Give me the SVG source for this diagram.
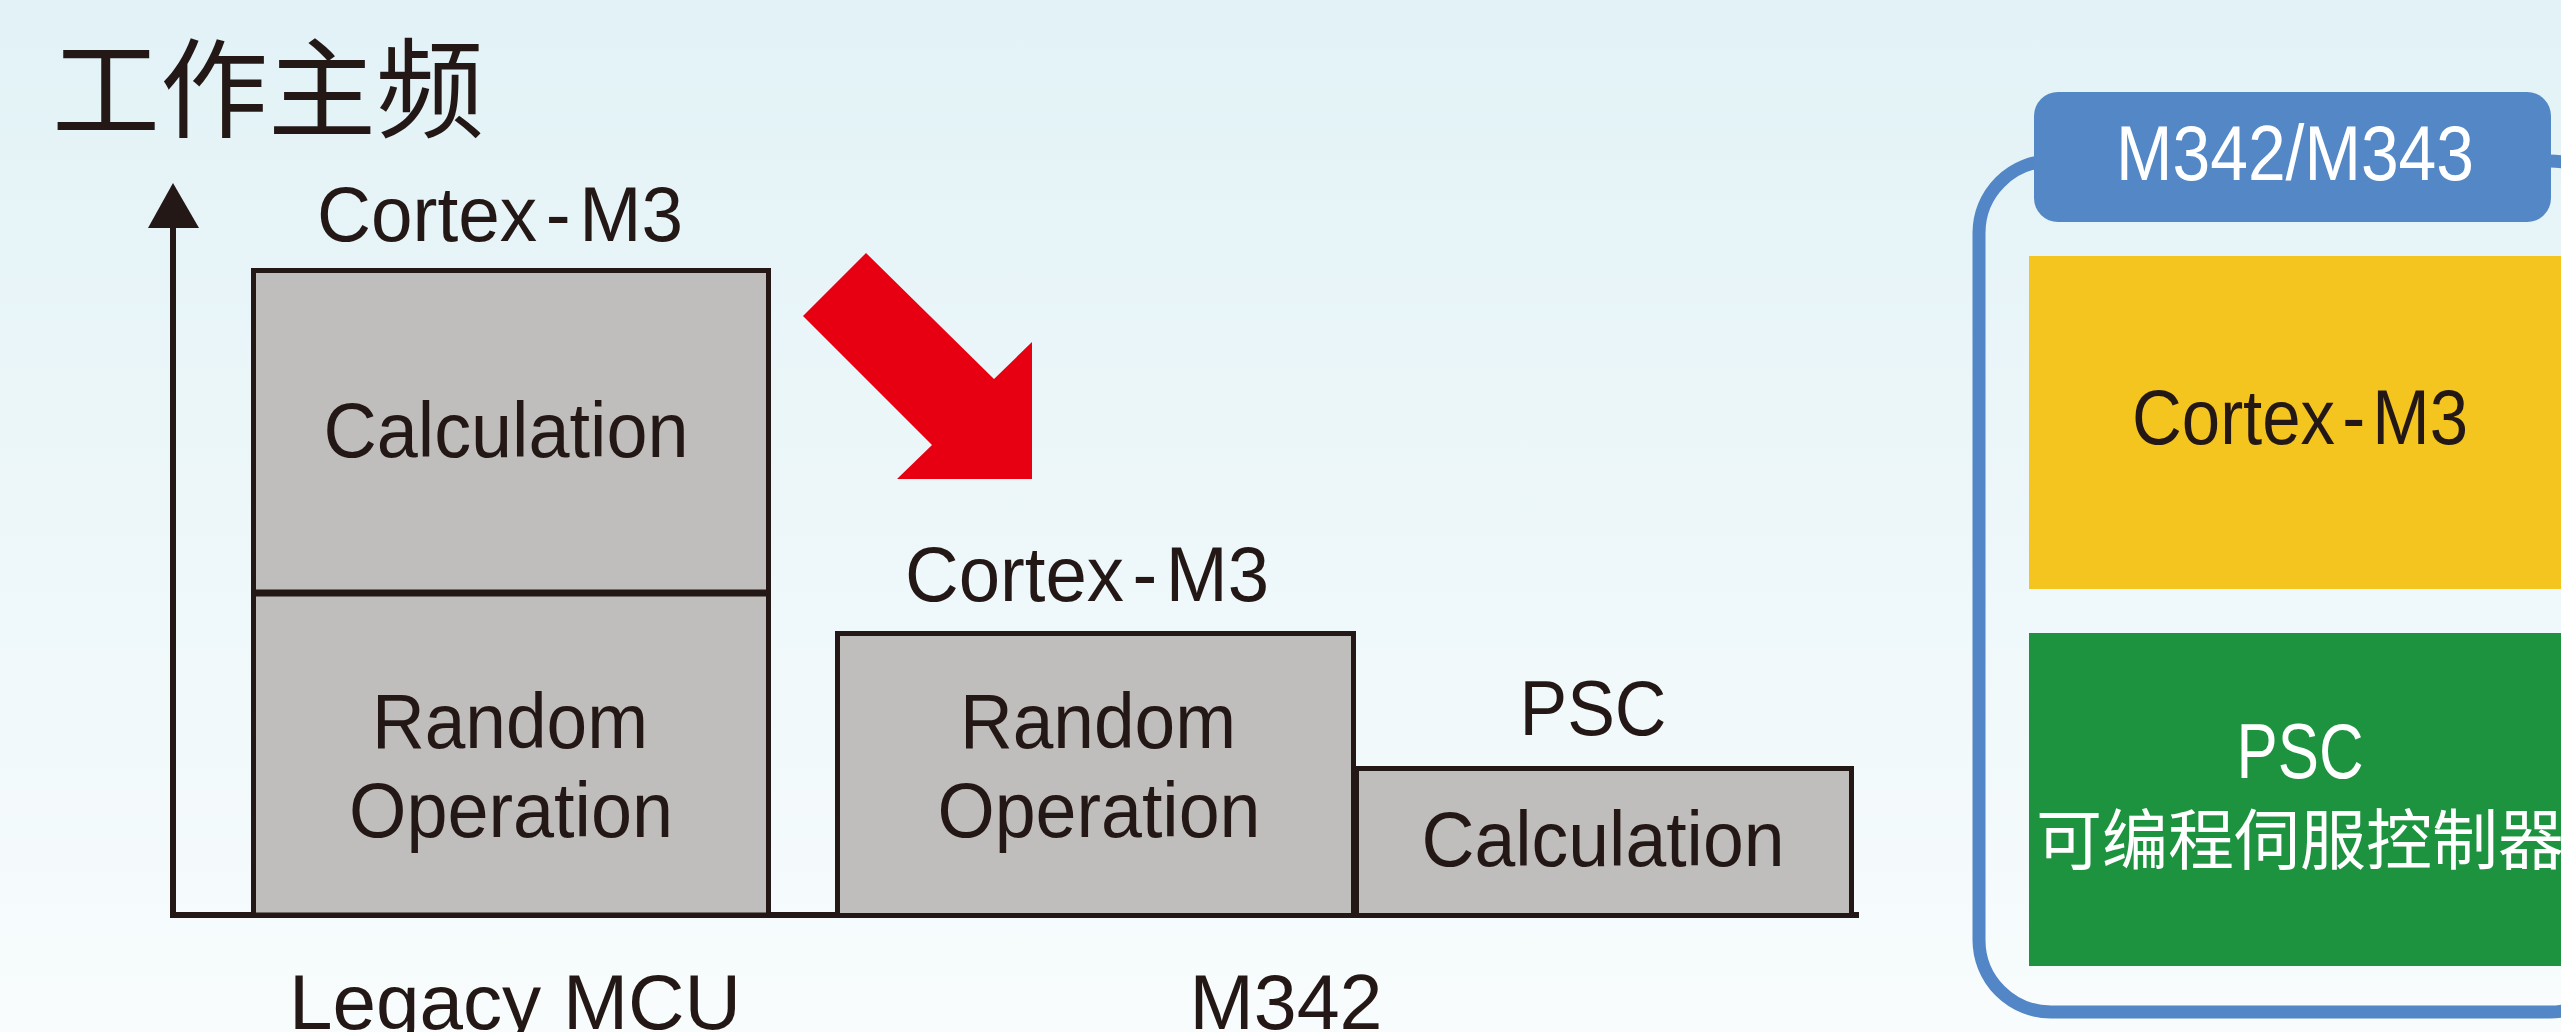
<svg xmlns="http://www.w3.org/2000/svg" width="2561" height="1032" viewBox="0 0 2561 1032">
<defs>
<linearGradient id="bg" x1="0" y1="0" x2="0" y2="1">
<stop offset="0" stop-color="#e2f2f6"/>
<stop offset="1" stop-color="#f8fcfd"/>
</linearGradient>
<style>
.t{font-family:"Liberation Sans",Arial,sans-serif;fill:#231815;text-anchor:middle;font-size:78px}
.w{fill:#ffffff}
.cjk{font-family:"Noto Sans CJK SC","Noto Sans CJK JP",sans-serif}
.bar{fill:#c0bebc;stroke:#231815;stroke-width:5}
.axis{stroke:#231815;stroke-width:6;fill:none}
</style>
</defs>
<rect x="0" y="0" width="2561" height="1032" fill="url(#bg)"/>

<g id="title">
<text x="52" y="129" class="cjk" font-size="108" fill="#231815">工作主频</text>
</g>

<g id="connectors">
<line class="axis" x1="173" y1="224" x2="173" y2="918"/>
<polygon points="173,183 148,228 199,228" fill="#231815"/>
<line class="axis" x1="170" y1="915" x2="1859" y2="915"/>
<polygon id="red-arrow" points="866,253 994,379 1032,342 1032,479 897,479 932,445 803,316" fill="#e60012"/>
</g>

<g id="legacy-calc">
<rect class="bar" x="253.5" y="270.5" width="515" height="321.5"/>
<text class="t" x="506" y="457" textLength="365" lengthAdjust="spacingAndGlyphs">Calculation</text>
</g>
<g id="legacy-random">
<rect class="bar" x="253.5" y="594" width="515" height="321"/>
<text class="t" x="510" y="748" textLength="276" lengthAdjust="spacingAndGlyphs">Random</text>
<text class="t" x="511" y="837" textLength="324" lengthAdjust="spacingAndGlyphs">Operation</text>
</g>
<g id="legacy-labels">
<text class="t" x="500" y="241" textLength="366" lengthAdjust="spacingAndGlyphs">Cortex<tspan dx="9">-</tspan><tspan dx="9">M3</tspan></text>
<text class="t" x="515" y="1029" font-size="82" textLength="452" lengthAdjust="spacingAndGlyphs">Legacy MCU</text>
</g>

<g id="m342-random">
<rect class="bar" x="837.5" y="633.5" width="516" height="282"/>
<text class="t" x="1098" y="748" textLength="276" lengthAdjust="spacingAndGlyphs">Random</text>
<text class="t" x="1099" y="837" textLength="323" lengthAdjust="spacingAndGlyphs">Operation</text>
</g>
<g id="m342-psc">
<rect class="bar" x="1356.5" y="768.5" width="495" height="147"/>
<text class="t" x="1603" y="866" textLength="363" lengthAdjust="spacingAndGlyphs">Calculation</text>
</g>
<g id="m342-labels">
<text class="t" x="1087" y="601" textLength="364" lengthAdjust="spacingAndGlyphs">Cortex<tspan dx="9">-</tspan><tspan dx="9">M3</tspan></text>
<text class="t" x="1593" y="735" textLength="147" lengthAdjust="spacingAndGlyphs">PSC</text>
<text class="t" x="1286" y="1029" font-size="82" textLength="193" lengthAdjust="spacingAndGlyphs">M342</text>
</g>

<g id="chip">
<rect x="1979" y="161" width="643" height="851" rx="72" ry="72" fill="none" stroke="#5386c6" stroke-width="13"/>
<g id="chip-label">
<rect x="2034" y="92" width="517" height="130" rx="24" ry="24" fill="#5387c6"/>
<text class="t w" x="2295" y="180" font-size="73" textLength="358" lengthAdjust="spacingAndGlyphs">M342/M343</text>
</g>
<g id="chip-cortex">
<rect x="2029" y="256" width="560" height="333" fill="#f4c51e"/>
<text class="t" x="2300" y="444" font-size="73" textLength="336" lengthAdjust="spacingAndGlyphs">Cortex<tspan dx="8">-</tspan><tspan dx="8">M3</tspan></text>
</g>
<g id="chip-psc">
<rect x="2029" y="633" width="560" height="333" fill="#1e933f"/>
<text class="t w" x="2300" y="778" font-size="72" textLength="127" lengthAdjust="spacingAndGlyphs">PSC</text>
<text class="w cjk" x="2300" y="864" font-size="66" text-anchor="middle">可编程伺服控制器</text>
</g>
</g>
</svg>
